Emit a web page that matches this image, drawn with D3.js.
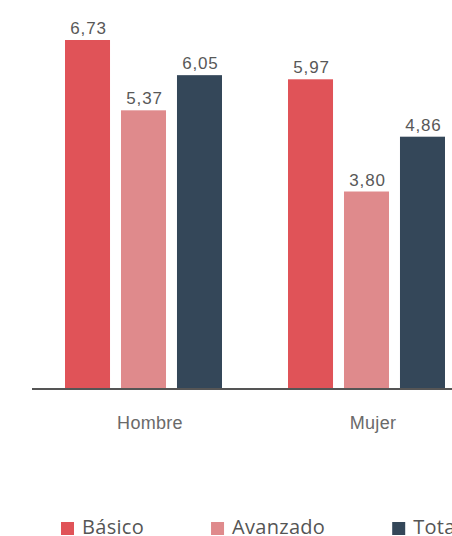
<!DOCTYPE html>
<html>
<head>
<meta charset="utf-8">
<script src="https://cdn.jsdelivr.net/npm/d3@7"></script>
<style>
  html, body { margin: 0; padding: 0; background: #fff; }
  svg { display: block; overflow: hidden; }
</style>
</head>
<body>
<div id="chart"></div>
<script>
// Groups along the x axis and the series drawn inside each group
const categories = ["Hombre", "Mujer"];
const seriesNames = ["Básico", "Avanzado", "Total"];
const basico = [6.73, 5.97];
const avanzado = [5.37, 3.80];
const total = [6.05, 4.86];
const seriesColors = ["#e05358", "#df8a8c", "#344759"];

const values = [basico, avanzado, total];

const width = 452, height = 536;
const svg = d3.select("#chart").append("svg")
  .attr("width", width).attr("height", height);

// The plot continues past the right edge of the frame
const x0 = d3.scaleBand()
  .domain(categories)
  .range([32, 478])
  .paddingInner(0.296)
  .paddingOuter(0.148);

const x1 = d3.scaleBand()
  .domain(seriesNames)
  .range([0, x0.bandwidth()])
  .paddingInner(0.196)
  .paddingOuter(0);

const y = d3.scaleLinear()
  .domain([0, 6.73])
  .range([388, 40]);

const fmt = v => d3.format(".2f")(v).replace(".", ",");

// Bars and value labels
categories.forEach((cat, ci) => {
  const g = svg.append("g").attr("transform", `translate(${x0(cat)},0)`);
  seriesNames.forEach((s, si) => {
    const v = values[si][ci];
    g.append("rect")
      .attr("x", x1(s))
      .attr("y", y(v))
      .attr("width", x1.bandwidth())
      .attr("height", y(0) - y(v))
      .attr("fill", seriesColors[si]);
    g.append("text")
      .attr("x", x1(s) + x1.bandwidth() / 2 + 1)
      .attr("y", y(v) - 6)
      .attr("text-anchor", "middle")
      .attr("font-family", "'Liberation Sans', Arial, sans-serif")
      .attr("font-size", 17)
      .attr("letter-spacing", "0.8px")
      .attr("fill", "#585858")
      .text(fmt(v));
  });
});

// Baseline axis with category labels
const xAxis = d3.axisBottom(x0).tickSize(0).tickPadding(0);
const axisG = svg.append("g")
  .attr("transform", `translate(0,${y(0)})`)
  .call(xAxis);
axisG.select(".domain")
  .attr("stroke", "#555")
  .attr("stroke-width", 2)
  .attr("d", `M${x0.range()[0]},1H${x0.range()[1]}`);
axisG.selectAll(".tick text")
  .attr("dy", 0)
  .attr("y", 41)
  .attr("dx", 6.5)
  .attr("font-family", "'Liberation Sans', Arial, sans-serif")
  .attr("font-size", 18)
  .attr("letter-spacing", "0.3px")
  .attr("fill", "#6a6a6a");

// Legend laid out left to right
const legend = svg.append("g").attr("transform", "translate(61,534)");
let lx = 0;
seriesNames.forEach((s, i) => {
  const item = legend.append("g").attr("transform", `translate(${lx},0)`);
  item.append("rect")
    .attr("x", 0).attr("y", -12)
    .attr("width", 13).attr("height", 13)
    .attr("fill", seriesColors[i]);
  const t = item.append("text")
    .attr("x", 21).attr("y", 0)
    .attr("font-family", "'Open Sans', sans-serif")
    .attr("font-size", 20)
    .attr("letter-spacing", "0.3px")
    .attr("fill", "#555")
    .text(s);
  lx += 21 + t.node().getComputedTextLength() + 67;
});
</script>
</body>
</html>
